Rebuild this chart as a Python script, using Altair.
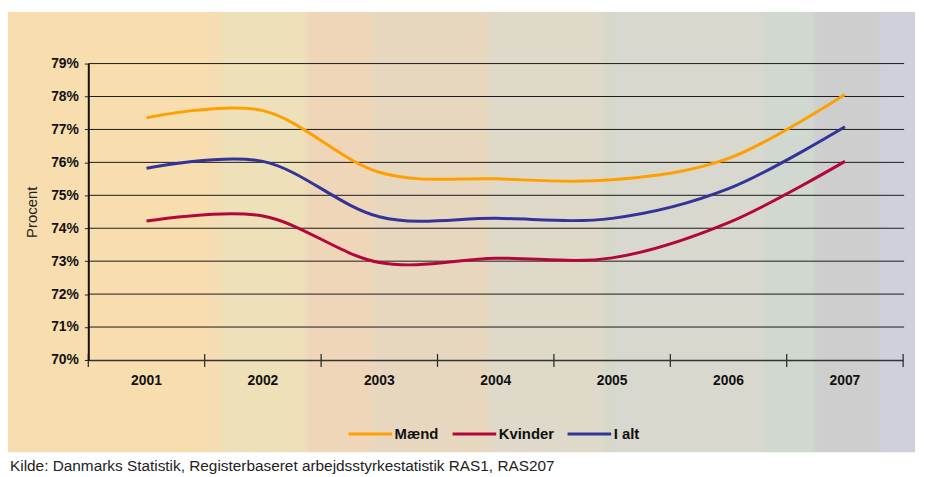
import altair as alt
import pandas as pd

# ---- data ----
years = [2001, 2002, 2003, 2004, 2005, 2006, 2007]
maend = [77.35, 77.57, 75.70, 75.50, 75.47, 76.12, 78.06]
kvinder = [74.22, 74.37, 72.96, 73.09, 73.10, 74.17, 76.03]
i_alt = [75.82, 76.03, 74.35, 74.30, 74.30, 75.20, 77.08]
series_names = ["Mænd", "Kvinder", "I alt"]
y_ticks = [70, 71, 72, 73, 74, 75, 76, 77, 78, 79]
year_labels = [str(y) for y in years]
source_text = "Kilde: Danmarks Statistik, Registerbaseret arbejdsstyrkestatistik RAS1, RAS207"

# ---- style ----
series_colors = ["#FF9F00", "#B3073A", "#333399"]
series_widths = [3, 3, 5]
FONT = "Liberation Sans"
bands = [
    (0.000, "#F8DEAE"), (0.2197, "#F6DCB2"), (0.235, "#EEE0B8"), (0.329, "#F0D6B9"),
    (0.401, "#E8D7BF"), (0.531, "#DFD9C9"), (0.656, "#D6D9C9"), (0.671, "#D9D8CF"),
    (0.833, "#D0D8CF"), (0.889, "#CECECF"), (0.962, "#D0D0DC"),
]

rows = []
for name, vals in zip(series_names, [maend, kvinder, i_alt]):
    for yr, v in zip(years, vals):
        rows.append({"serie": name, "year": yr, "value": v})
df = pd.DataFrame(rows)

bounds_df = pd.DataFrame({"year": [years[0] - 0.5] + [y + 0.5 for y in years]})
year_df = pd.DataFrame({"year": years, "label": year_labels})
grid_df = pd.DataFrame({"value": y_ticks[1:]})
src_df = pd.DataFrame({"t": [source_text]})
dummy = pd.DataFrame({"a": [0]})

eps = 0.003
stops = []
for i, (s, c) in enumerate(bands):
    e = bands[i + 1][0] if i + 1 < len(bands) else 1.0
    stops.append({"offset": s + (eps if i > 0 else 0), "color": c})
    stops.append({"offset": e - (eps if i + 1 < len(bands) else 0), "color": c})
gradient = {"gradient": "linear", "x1": 0, "x2": 1, "y1": 0, "y2": 0, "stops": stops}

xscale = alt.Scale(domain=[years[0] - 0.5, years[-1] + 0.5], nice=False, zero=False)
yscale = alt.Scale(domain=[y_ticks[0], y_ticks[-1]], nice=False, zero=False)

x_axis = alt.Axis(grid=False, ticks=False, labels=False, domainColor="#333333",
                  domainWidth=1.5, zindex=1)
y_axis = alt.Axis(values=y_ticks, grid=False, labelExpr="datum.value + '%'",
                  labelOverlap=False, labelFlush=False,
                  labelFont=FONT, labelFontSize=14, labelFontWeight="bold",
                  labelColor="#111111", tickSize=4, tickColor="#222222",
                  labelPadding=6, domainColor="#111111", domainWidth=2,
                  titleFont=FONT, titleFontSize=15, titleFontWeight="normal",
                  titleColor="#222222", titlePadding=11, zindex=1)

def X():
    return alt.X("year:Q", scale=xscale, title=None, axis=x_axis)

def Y():
    return alt.Y("value:Q", scale=yscale, title="Procent", axis=y_axis)

bg = alt.Chart(dummy).mark_rect(fill=gradient).encode(
    x=alt.value(-81), x2=alt.value(834), y=alt.value(-52), y2=alt.value(392)
)

grid = alt.Chart(grid_df).mark_rule(color="#1a1a1a", strokeWidth=1).encode(
    y=Y(), x=alt.value(0), x2=alt.value(823)
)

legend_kw = dict(title=None, orient="none", direction="horizontal",
                 legendX=261, legendY=350, symbolType="stroke",
                 symbolSize=1936, labelFont=FONT, labelFontSize=15,
                 labelFontWeight="bold", labelColor="#111111",
                 labelOffset=1, columnPadding=7, padding=0)

lines = alt.Chart(df).mark_line(interpolate="cardinal").encode(
    x=X(),
    y=Y(),
    color=alt.Color("serie:N", scale=alt.Scale(domain=series_names, range=series_colors),
                    legend=alt.Legend(**legend_kw)),
    strokeWidth=alt.StrokeWidth("serie:N", scale=alt.Scale(domain=series_names, range=series_widths),
                                legend=alt.Legend(**legend_kw)),
    detail="serie:N",
)

ticks = alt.Chart(bounds_df).mark_rule(color="#222222", strokeWidth=1.2).encode(
    x=X(), y=alt.value(293), y2=alt.value(306)
)

ylabels = alt.Chart(year_df).mark_text(font=FONT, fontSize=14, fontWeight="bold",
                                       color="#111111", baseline="middle").encode(
    x=X(), y=alt.value(320), text="label:N"
)

src = alt.Chart(src_df).mark_text(font=FONT, fontSize=15.5, color="#222222",
                                  align="left", baseline="middle").encode(
    x=alt.value(-79), y=alt.value(406), text="t:N"
)

chart = alt.layer(bg, grid, lines, ticks, ylabels, src).properties(
    width=822, height=299,
    autosize=alt.AutoSizeParams(type="none"),
    padding={"left": 81, "top": 54, "right": 14, "bottom": 116},
).configure_view(stroke=None)

chart.save("out.html", embed_options={"renderer": "svg", "actions": False})
